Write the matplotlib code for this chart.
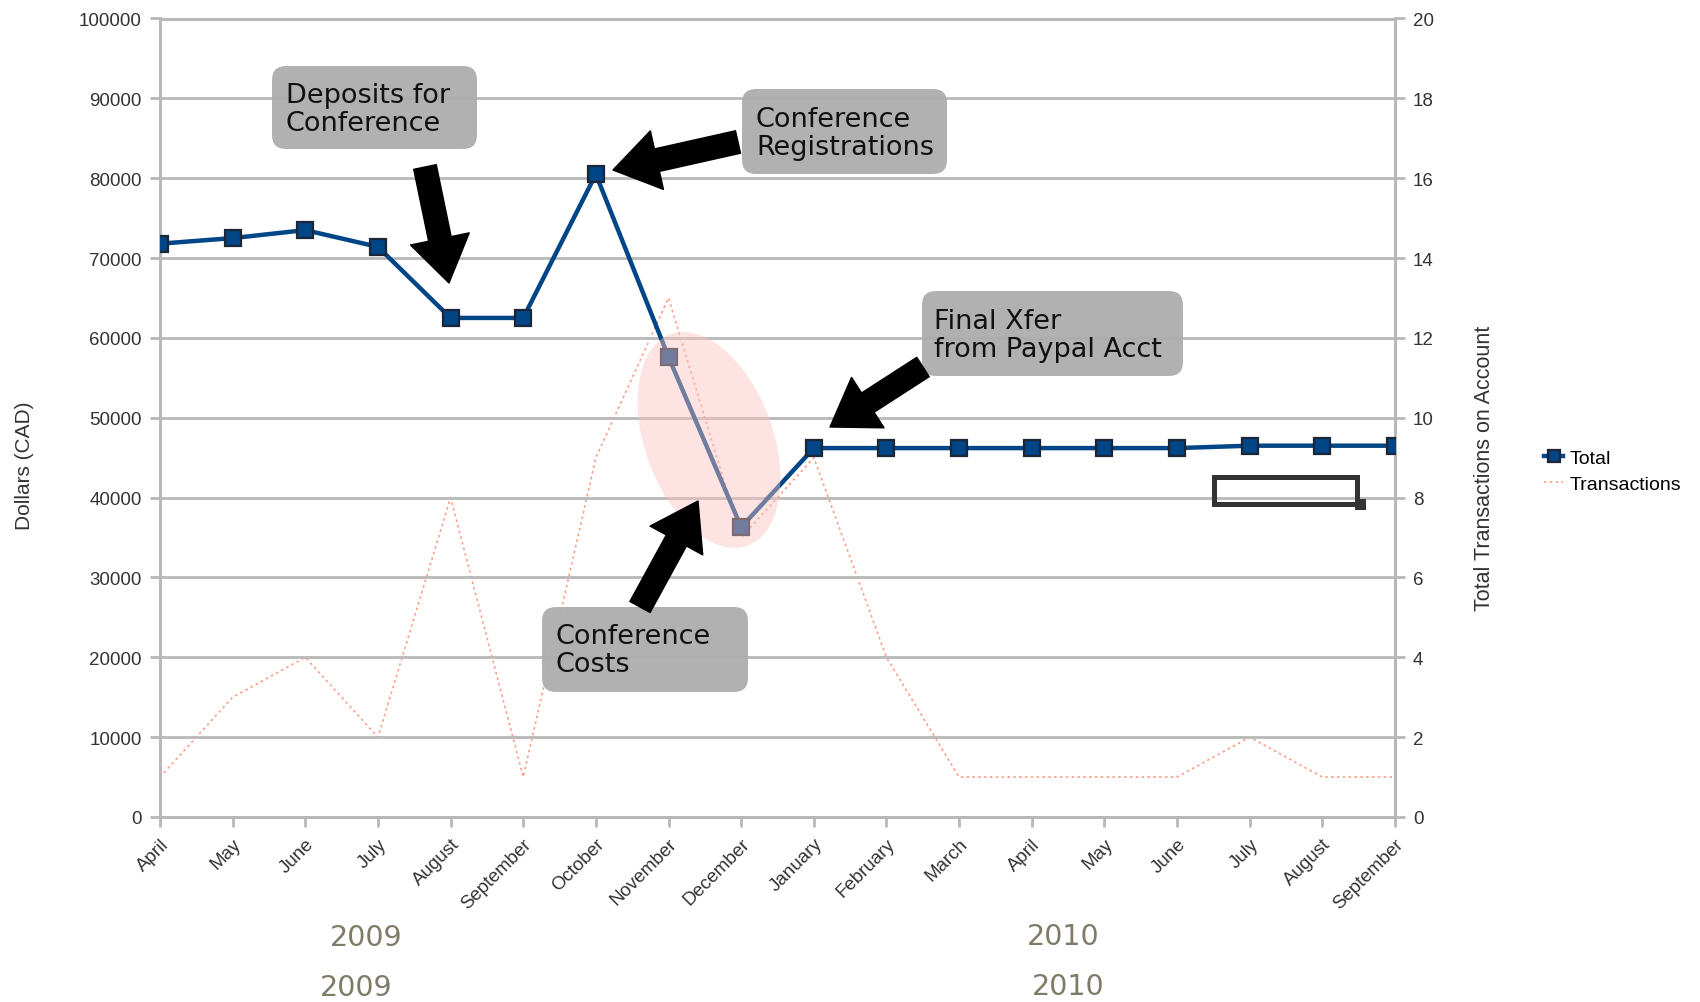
import matplotlib
matplotlib.use('Agg')
import matplotlib.pyplot as plt
from matplotlib.patches import FancyBboxPatch, FancyArrowPatch, Ellipse, Rectangle

months = ['April', 'May', 'June', 'July', 'August', 'September', 'October',
          'November', 'December', 'January', 'February', 'March', 'April',
          'May', 'June', 'July', 'August', 'September']
total = [71800, 72500, 73500, 71400, 62500, 62500, 80500, 57600, 36300,
         46200, 46200, 46200, 46200, 46200, 46200, 46500, 46500, 46500]
transactions = [1, 3, 4, 2, 8, 1, 9, 13, 7, 9, 4, 1, 1, 1, 1, 2, 1, 1]
left_ticks = list(range(0, 100001, 10000))
right_ticks = list(range(0, 21, 2))
year_labels = ['2009', '2010']

W, H = 1700, 1003
fig = plt.figure(figsize=(W / 100, H / 100), dpi=100)
L, R, T, B = 160, 1395, 19.5, 818
ax = fig.add_axes([L / W, 1 - B / H, (R - L) / W, (B - T) / H])
ax2 = ax.twinx()

grid_c = '#b8b8b8'
tick_c = '#333333'
x = list(range(len(months)))

# Transactions (right axis)
l2, = ax2.plot(x, transactions, color='#ff9c85', lw=1.2, ls=(0, (1.5, 2.0)),
               label='Transactions')
ax2.set_ylim(0, 20)
ax2.set_yticks(right_ticks)

# Total (left axis)
ax.set_zorder(ax2.get_zorder() + 1)
ax.patch.set_visible(False)
l1, = ax.plot(x, total, color='#004586', lw=3.2, marker='s', ms=12,
              mfc='#004586', mec='#1b2636', mew=1.6, label='Total', zorder=5)
ax.set_ylim(0, 100000)
ax.set_xlim(0, len(months) - 1)
ax.set_yticks(left_ticks)
ax.set_xticks(x)
ax.set_xticklabels(months, rotation=45, ha='right', va='top',
                   rotation_mode='anchor', fontsize=14, family='Liberation Sans',
                   color=tick_c)
ax.yaxis.grid(True, color=grid_c, lw=2.0, zorder=0)
ax.set_axisbelow(True)

for a in (ax, ax2):
    for s in a.spines.values():
        s.set_color(grid_c)
        s.set_linewidth(2.0)
    a.tick_params(axis='both', colors=grid_c, width=2.0, length=7, labelsize=13.5,
                  labelcolor=tick_c)
for lab in ax.get_yticklabels() + ax2.get_yticklabels():
    lab.set_family('Liberation Sans')
ax.tick_params(axis='y', pad=6)
ax2.tick_params(axis='y', pad=6)
ax.tick_params(axis='x', pad=6)

fig.text(25 / W, 1 - 466 / H, 'Dollars (CAD)', rotation=90, ha='center',
         va='center', fontsize=15, family='Liberation Sans', color=tick_c)
fig.text(1484 / W, 1 - 468 / H, 'Total Transactions on Account', rotation=90,
         ha='center', va='center', fontsize=15.5, family='Liberation Sans',
         color=tick_c)

fig.legend(handles=[l1, l2], loc='center left',
           bbox_to_anchor=(1544 / W, 1 - 472 / H), frameon=False,
           prop={'family': 'Liberation Sans', 'size': 14},
           handlelength=1.0, handletextpad=0.3, labelspacing=0.45,
           borderpad=0, borderaxespad=0, markerscale=0.7)

# Overlay in pixel coordinates for annotations
ov = fig.add_axes([0, 0, 1, 1])
ov.set_zorder(10)
ov.set_xlim(0, W)
ov.set_ylim(H, 0)
ov.axis('off')
ov.patch.set_visible(False)

ov.add_patch(Ellipse((709, 441), 128, 225, angle=-20, fc='#fbc3bf',
                     ec='none', alpha=0.45, zorder=1))

boxes = [
    ((272, 67, 205, 83), 286, 'Deposits for\nConference'),
    ((742, 90, 205, 85), 756, 'Conference\nRegistrations'),
    ((542, 608, 206, 85), 556, 'Conference\nCosts'),
    ((922, 292, 261, 85), 934, 'Final Xfer\nfrom Paypal Acct'),
]
for (bx, by, bw, bh), tx, txt in boxes:
    ov.add_patch(FancyBboxPatch((bx, by), bw, bh,
                                boxstyle='round,pad=0,rounding_size=14',
                                fc='#adadad', ec='none', alpha=0.95, zorder=2))
    ov.text(tx, by + bh / 2 + 1, txt, ha='left', va='center', fontsize=19.5,
            family='DejaVu Sans', color='#111111', linespacing=1.1, zorder=3)

arrows = [((425, 168), (449, 284)), ((738, 143), (613, 171)),
          ((640, 608), (698, 502)), ((923, 368), (830, 428))]
for p0, p1 in arrows:
    ov.add_patch(FancyArrowPatch(p0, p1,
                                 arrowstyle='simple,head_length=0.45,head_width=0.6,tail_width=0.23',
                                 mutation_scale=72, color='black', shrinkA=0,
                                 shrinkB=0, zorder=4))

ov.add_patch(Rectangle((1214.5, 477.5), 143, 27, fill=False, ec='#333333',
                       lw=3.6, zorder=4))
ov.add_patch(Rectangle((1355, 500), 11, 11, fc='#333333', ec='none', zorder=4))

year_c = '#7f7b67'
ov.text(366, 938, year_labels[0], ha='center', va='center', fontsize=20.5,
        family='DejaVu Sans', color=year_c)
ov.text(356, 988, year_labels[0], ha='center', va='center', fontsize=20.5,
        family='DejaVu Sans', color=year_c)
ov.text(1063, 937, year_labels[1], ha='center', va='center', fontsize=20.5,
        family='DejaVu Sans', color=year_c)
ov.text(1068, 987, year_labels[1], ha='center', va='center', fontsize=20.5,
        family='DejaVu Sans', color=year_c)

fig.savefig('out.png', dpi=100)
